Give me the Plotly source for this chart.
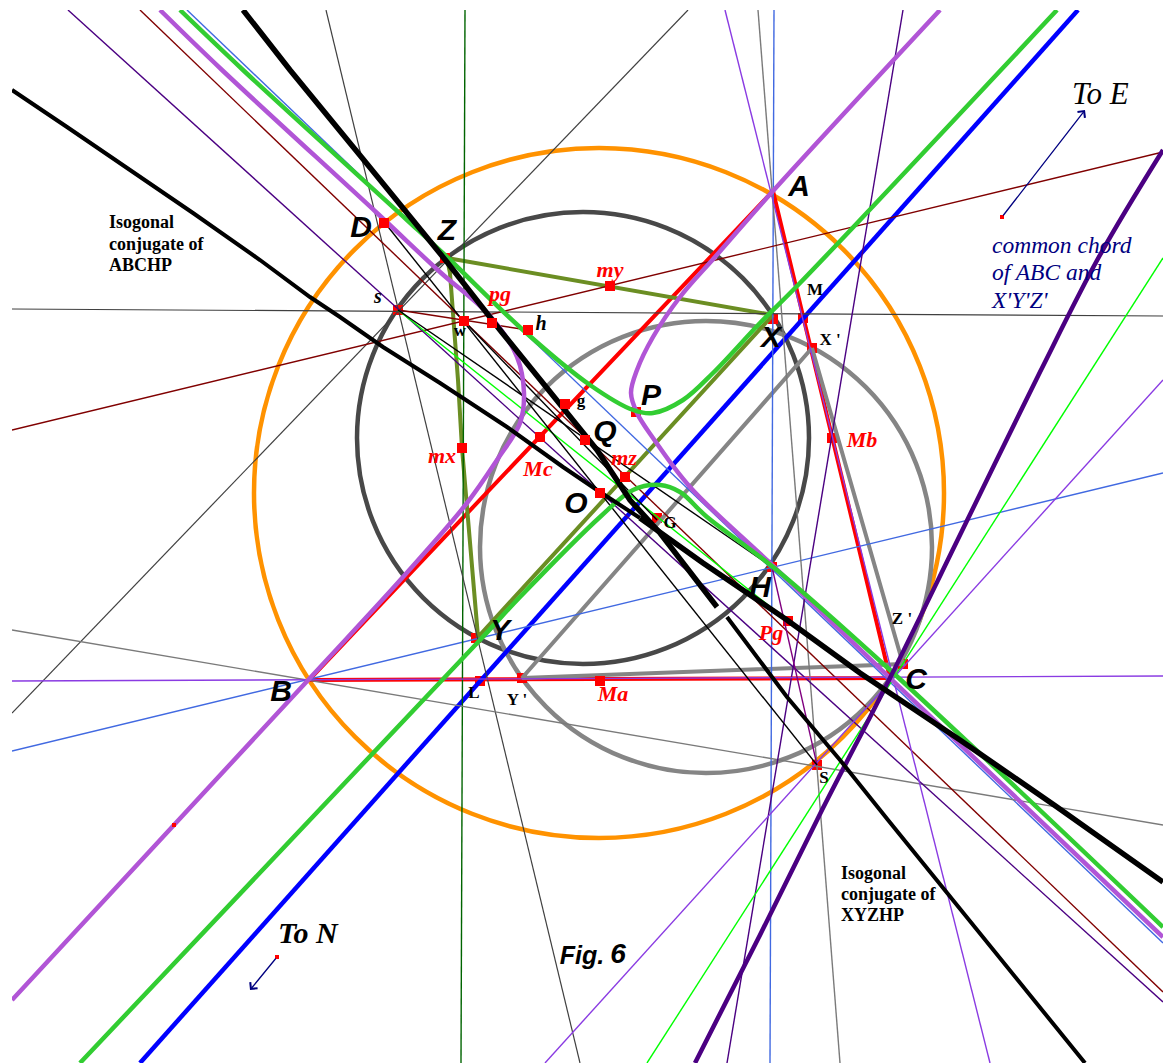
import plotly.graph_objects as go

# --- circles: centre x, centre y, radius, colour
circle_cx = [599, 583, 706]
circle_cy = [493, 438, 547]
circle_r = [345, 226, 226]
circle_col = ["#ff9200", "#484848", "#858585"]

# --- straight thin lines (None separates segments)
royal_x = [187, 1163, None, 774, 770, None, 12, 1163]
royal_y = [10, 943, None, 10, 1063, None, 751, 473]
forest_x = [465, 461]
forest_y = [10, 1063]
darkgray_x = [326, 580, None, 12, 688, None, 12, 1163]
darkgray_y = [10, 1063, None, 713, 10, None, 309, 316]
midgray_x = [758, 840, None, 12, 1163]
midgray_y = [10, 1063, None, 630, 825]
maroon_x = [12, 1163, None, 140, 1163, None, 398, 528]
maroon_y = [430, 152, None, 10, 992, None, 310, 330]
indigo_x = [68, 1163, None, 903, 727]
indigo_y = [10, 1002, None, 10, 1063]
lime_x = [398, 788, None, 1163, 647]
lime_y = [310, 621, None, 258, 1063]
violet_x = [12, 1163, None, 1163, 545, None, 725, 990]
violet_y = [681, 676, None, 380, 1063, None, 10, 1063]
purple_x = [772, 817]
purple_y = [567, 765]
black_thin_x = [385, 817, None, 398, 772, None, 464, 657]
black_thin_y = [223, 765, None, 310, 567, None, 321, 520]

# --- thick segments
red_x = [773, 309, 890, 773]
red_y = [191, 680, 678, 191]
olive_x = [773, 447, 450, 458, 462, 467, 478, 773]
olive_y = [315, 258, 273, 380, 448, 507, 637, 315]
gray_x = [812, 522, 903, 812]
gray_y = [348, 678, 664, 348]
blue_x = [140, 1078]
blue_y = [1063, 10]

# --- thick curves
orchid_x = [160, 222, 377, 440, 490, 517, 524, 520, 497, 467, 403, 310, 12, None,
            940, 773, 715, 680, 653, 637, 631, 637, 653, 690, 770, 890, 1163]
orchid_y = [10, 70, 213, 272, 316, 357, 393, 423, 460, 503, 577, 678, 1000, None,
            10, 191, 257, 297, 337, 370, 393, 413, 438, 487, 563, 678, 937]
green_x = [180, 243, 407, 447, 523, 590, 633, 653, 683, 713, 760, 800, 1057, None,
           80, 480, 520, 600, 633, 660, 680, 707, 773, 890, 1163]
green_y = [10, 70, 220, 257, 330, 385, 410, 413, 400, 373, 323, 283, 10, None,
           1063, 640, 597, 517, 490, 485, 492, 517, 567, 670, 927]
deep_indigo_x = [1163, 1100, 1040, 960, 890, 822, 760, 695]
deep_indigo_y = [150, 255, 372, 535, 678, 810, 935, 1063]
black1a_x = [243, 290, 363, 410, 447, 500, 540, 597, 630, 660, 717]
black1a_y = [10, 70, 159, 217, 262, 330, 380, 450, 500, 533, 607]
black1b_x = [727, 787, 840, 888, 1085]
black1b_y = [617, 697, 760, 820, 1063]
black2a_x = [12, 67, 193, 260, 310, 340, 383, 440, 507, 563, 597, 640]
black2a_y = [90, 127, 213, 260, 297, 317, 347, 383, 427, 467, 490, 518]
black2b_x = [640, 703, 787, 860, 960, 1057, 1163]
black2b_y = [518, 563, 620, 673, 740, 807, 882]

# --- red points
under_x = [398, 445, 773, 803, 812, 772, 903, 476, 480, 522, 817, 636, 788, 657, 832]
under_y = [310, 258, 319, 318, 348, 567, 664, 638, 681, 678, 765, 412, 621, 518, 438]
over_x = [384, 464, 492, 528, 610, 565, 585, 540, 462, 625, 600, 600]
over_y = [223, 321, 323, 330, 286, 404, 440, 437, 448, 477, 493, 681]
tiny_x = [174, 277, 1002]
tiny_y = [825, 957, 217]

# --- labels
big_txt = ["A", "B", "C", "D", "X", "Y", "Z", "O", "P", "Q", "H"]
big_x = [799, 281, 916, 361, 771, 500, 447, 576, 651, 605, 760]
big_y = [188, 693, 681, 229, 339, 632, 232, 505, 397, 433, 589]
red_txt = ["my", "pg", "Mc", "mx", "mz", "Mb", "Pg", "Ma"]
red_tx = [610, 500, 538, 442, 624, 862, 771, 613]
red_ty = [271, 295, 470, 457, 459, 441, 634, 695]
small_txt = ["w", "g", "M", "X '", "G", "Z '", "Y '", "L", "S"]
small_x = [460, 581, 815, 830, 670, 902, 517, 474, 824]
small_y = [332, 402, 291, 341, 524, 620, 701, 694, 779]
ital_txt = ["s", "h"]
ital_x = [378, 541]
ital_y = [298, 325]
note_txt = ["Isogonal", "conjugate of", "ABCHP", "Isogonal", "conjugate of", "XYZHP"]
note_x = [109, 109, 109, 841, 841, 841]
note_y = [223, 245, 266, 874, 895, 916]
chord_txt = ["common chord", "of ABC and", "X'Y'Z'"]
chord_x = [992, 992, 992]
chord_y = [247, 274, 302]
fig_word = ["Fig."]
fig_num = ["6"]

SERIF = "Liberation Serif"
SANS = "Liberation Sans"


def add_line(x, y, color, width, shape="linear"):
    fig.add_trace(go.Scatter(x=x, y=y, mode="lines", hoverinfo="skip",
                             line=dict(color=color, width=width, shape=shape, smoothing=1.0)))


def add_pts(x, y, size):
    fig.add_trace(go.Scatter(x=x, y=y, mode="markers", hoverinfo="skip",
                             marker=dict(symbol="square", color="#ff0000", size=size)))


def add_text(x, y, t, family, size, color, pos="middle center"):
    fig.add_trace(go.Scatter(x=x, y=y, text=t, mode="text", hoverinfo="skip", textposition=pos,
                             textfont=dict(family=family, size=size, color=color)))


fig = go.Figure()
add_pts(under_x, under_y, 10)
add_line(red_x, red_y, "#ff0000", 4)
add_line(olive_x, olive_y, "#6b8e23", 4)
add_line(gray_x, gray_y, "#858585", 4)
add_line(blue_x, blue_y, "#0000ff", 4.5)
add_line(royal_x, royal_y, "#4169e1", 1.4)
add_line(forest_x, forest_y, "#006400", 1.4)
add_line(darkgray_x, darkgray_y, "#404040", 1.2)
add_line(midgray_x, midgray_y, "#7a7a7a", 1.4)
add_line(maroon_x, maroon_y, "#800000", 1.4)
add_line(indigo_x, indigo_y, "#4b0082", 1.4)
add_line(lime_x, lime_y, "#00ff00", 1.4)
add_line(violet_x, violet_y, "#8a3be2", 1.4)
add_line(purple_x, purple_y, "#800080", 1.4)
add_line(black_thin_x, black_thin_y, "#000000", 1.4)
add_line(orchid_x, orchid_y, "#b155d6", 4.5, "spline")
add_line(green_x, green_y, "#32cd32", 4.5, "spline")
add_line(deep_indigo_x, deep_indigo_y, "#4b0082", 4.5, "spline")
add_line(black1a_x, black1a_y, "#000000", 5.5)
add_line(black1b_x, black1b_y, "#000000", 4)
add_line(black2a_x, black2a_y, "#000000", 4)
add_line(black2b_x, black2b_y, "#000000", 5.5)
add_pts(over_x, over_y, 10)
add_pts(tiny_x, tiny_y, 4)

add_text(big_x, big_y, [f"<b><i>{t}</i></b>" for t in big_txt], SANS, 30, "#000000")
add_text(red_tx, red_ty, [f"<b><i>{t}</i></b>" for t in red_txt], SERIF, 22, "#ff0000")
add_text(small_x, small_y, [f"<b>{t}</b>" for t in small_txt], SERIF, 17, "#000000")
add_text(ital_x, ital_y, [f"<b><i>{t}</i></b>" for t in ital_txt], SERIF, 20, "#000000")
add_text(note_x, note_y, [f"<b>{t}</b>" for t in note_txt], SERIF, 18, "#000000", "middle right")
add_text(chord_x, chord_y, [f"<i>{t}</i>" for t in chord_txt], SERIF, 23.5, "#000080", "middle right")
add_text([1072], [96], ["<i>To E</i>"], SERIF, 31, "#000000", "middle right")
add_text([278], [935], ["<b><i>To N</i></b>"], SERIF, 30, "#000000", "middle right")
add_text([582], [958], [f"<b><i>{t}</i></b>" for t in fig_word], SANS, 25, "#000000")
add_text([618], [956], [f"<b><i>{t}</i></b>" for t in fig_num], SANS, 28, "#000000")

shapes = [dict(type="circle", xref="x", yref="y", layer="below",
               x0=cx - r, x1=cx + r, y0=cy - r, y1=cy + r,
               line=dict(color=c, width=4.5))
          for cx, cy, r, c in zip(circle_cx, circle_cy, circle_r, circle_col)]

arrows = [dict(x=1085, y=110, ax=1002, ay=217, axref="x", ayref="y", xref="x", yref="y", text="",
               arrowhead=4, arrowsize=1.4, arrowwidth=1.3, arrowcolor="#000080"),
          dict(x=250, y=990, ax=277, ay=957, axref="x", ayref="y", xref="x", yref="y", text="",
               arrowhead=4, arrowsize=1.4, arrowwidth=1.3, arrowcolor="#000080")]

fig.update_layout(width=1163, height=1063, showlegend=False,
                  margin=dict(l=12, r=0, t=10, b=0),
                  paper_bgcolor="white", plot_bgcolor="white",
                  shapes=shapes, annotations=arrows,
                  xaxis=dict(range=[12, 1163], visible=False, fixedrange=True),
                  yaxis=dict(range=[1063, 10], visible=False, fixedrange=True))
fig.write_html("out.html", config=dict(displayModeBar=False),
               post_script="document.body.style.margin='0';")
